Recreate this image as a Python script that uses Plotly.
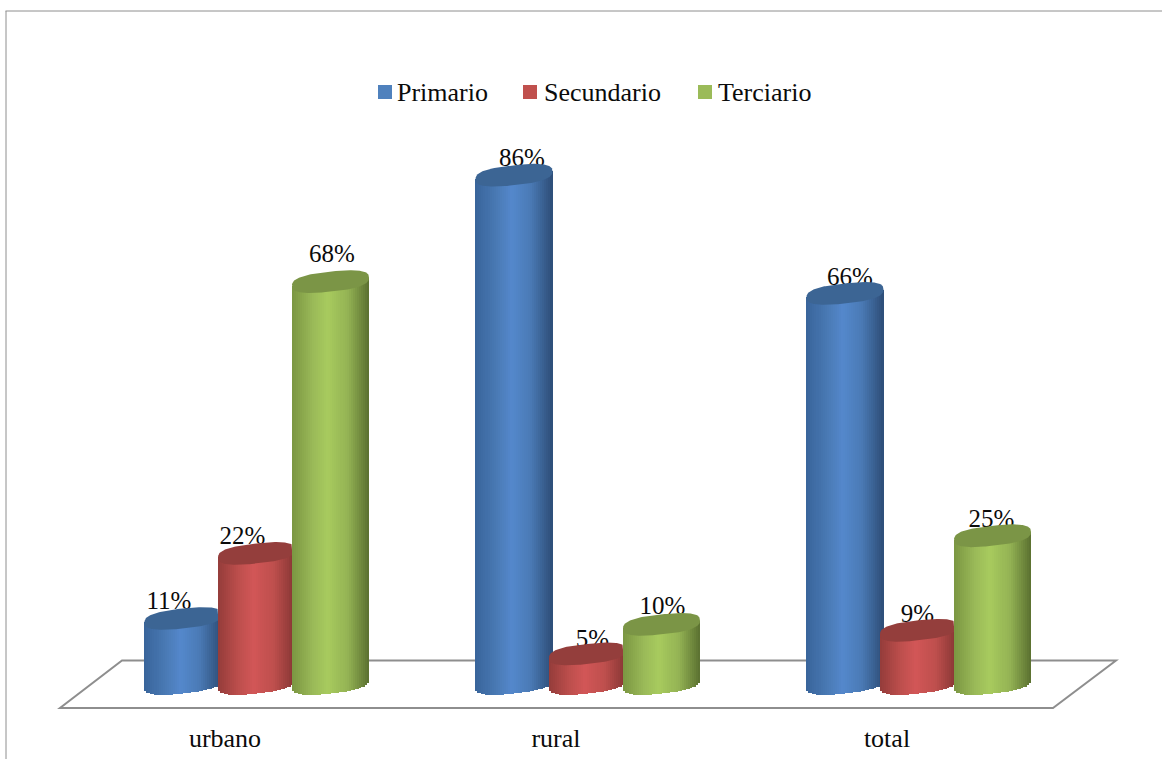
import numpy as np
import plotly.graph_objects as go

categories = ["urbano", "rural", "total"]
series_names = ["Primario", "Secundario", "Terciario"]
primario = [11, 86, 66]
secundario = [22, 5, 9]
terciario = [68, 10, 25]
series_values = [primario, secundario, terciario]
legend_colors = ["#4F81BD", "#C0504D", "#9BBB59"]
cap_colors = ["#3C6594", "#943E3C", "#7B9546"]
side_stops = [
    ["#38649A", "#4A7AB5", "#5488CC", "#4A7AB5", "#2E4E78"],
    ["#943C3A", "#BE4F4D", "#D25657", "#BE4F4D", "#853533"],
    ["#7A9642", "#9ABA58", "#A8CB5E", "#94B354", "#5A7030"],
]
stop_pos = [0.0, 0.28, 0.47, 0.72, 1.0]

W, H, AXIS_PX = 1162, 759, 720
PX_PER_UNIT_X = 331.0
PX_PER_PCT = 5.91
X0_PX = 225.0
ZERO_PX = 683.5
BAR_HALF = 38.5 / PX_PER_UNIT_X
SERIES_OFFSET = [-42 / PX_PER_UNIT_X, 31.5 / PX_PER_UNIT_X, 105.5 / PX_PER_UNIT_X]
ELL_B = 10 / PX_PER_PCT
ELL_S = 4 / PX_PER_PCT
ROUND = 0.75
N_STRIPS = 38
FONT = "Liberation Serif"
TEXT = "#0b0b0b"
GRAY = "#8E8E8E"

label_dx = [[-14, 8, 5], [-14, 5, -1], [1.5, 1, -1]]
label_dy = [[15.5, 15, 15], [15.5, 13.5, 15], [26, 17, 15.5]]

legend_icon_px = [378, 523, 698]
legend_text_px = [396, 543, 717]
LEGEND_Y_PX = 92
LEGEND_ICON = 14


def hex2rgb(h):
    return np.array([int(h[i:i + 2], 16) for i in (1, 3, 5)], float)


def ramp(stops, f):
    arr = np.array([hex2rgb(c) for c in stops])
    c = [np.interp(f, stop_pos, arr[:, j]) for j in range(3)]
    return "rgb(%d,%d,%d)" % tuple(round(v) for v in c)


def lower_edge(u):
    e = 2 / ROUND
    return (1 - abs(u) ** e) ** (1 / e)


fig = go.Figure()

# cylinder sides
edges = np.linspace(-1, 1, N_STRIPS + 1)
mids = (edges[:-1] + edges[1:]) / 2
step = 2 * BAR_HALF / N_STRIPS
for s, vals in enumerate(series_values):
    for u in mids:
        xs = [i + SERIES_OFFSET[s] + u * BAR_HALF for i in range(len(categories))]
        base = [-ELL_B * lower_edge(u) + ELL_S * u for _ in vals]
        top = [v + ELL_S * u for v in vals]
        fig.add_trace(go.Bar(x=xs, y=[a - b for a, b in zip(top, base)], base=base,
                             width=step * 1.15, showlegend=False, hoverinfo="skip",
                             name=series_names[s],
                             marker=dict(color=ramp(side_stops[s], (u + 1) / 2), line_width=0)))

# data labels (behind the caps)
for s, vals in enumerate(series_values):
    fig.add_trace(go.Scatter(
        x=[i + SERIES_OFFSET[s] + label_dx[s][i] / PX_PER_UNIT_X for i in range(len(vals))],
        y=[v + label_dy[s][i] / PX_PER_PCT for i, v in enumerate(vals)],
        mode="text", text=[f"{v}%" for v in vals], showlegend=False, hoverinfo="skip",
        textposition="middle center", textfont=dict(family=FONT, size=25, color=TEXT)))

# cylinder caps; a cap is hidden by the next cylinder when that one is taller
t = np.linspace(0, 2 * np.pi, 181)
ct, st = np.cos(t), np.sin(t)
cx = np.sign(ct) * np.abs(ct) ** ROUND
sy = np.sign(st) * np.abs(st) ** ROUND
for s, vals in enumerate(series_values):
    for i, v in enumerate(vals):
        ux = cx.copy()
        if s < 2 and series_values[s + 1][i] >= v:
            limit = (SERIES_OFFSET[s + 1] - SERIES_OFFSET[s] - BAR_HALF) / BAR_HALF
            ux = np.minimum(ux, limit)
        fig.add_trace(go.Scatter(
            x=i + SERIES_OFFSET[s] + BAR_HALF * ux,
            y=v + ELL_B * sy + ELL_S * cx,
            mode="lines", fill="toself", fillcolor=cap_colors[s],
            line=dict(width=0, color=cap_colors[s]),
            showlegend=False, hoverinfo="skip"))


def py(px):
    return 1 - px / AXIS_PX


def path(points):
    return "M " + " L ".join(f"{x / W:.5f},{py(y):.5f}" for x, y in points) + " Z"


shapes = [
    dict(type="path", xref="paper", yref="paper", layer="below",
         path=path([(122, 660.5), (1116, 660.5), (1053, 708), (60, 708)]),
         line=dict(color=GRAY, width=2)),
    dict(type="line", xref="paper", yref="paper", x0=5.5 / W, x1=1, y0=py(11), y1=py(11),
         line=dict(color=GRAY, width=1), layer="below"),
    dict(type="line", xref="paper", yref="paper", x0=6 / W, x1=6 / W, y0=py(11), y1=py(759),
         line=dict(color=GRAY, width=1), layer="below"),
]
annotations = []
for name, col, ix, tx in zip(series_names, legend_colors, legend_icon_px, legend_text_px):
    shapes.append(dict(type="rect", xref="paper", yref="paper", x0=ix / W, x1=(ix + LEGEND_ICON) / W,
                       y0=py(LEGEND_Y_PX + LEGEND_ICON / 2), y1=py(LEGEND_Y_PX - LEGEND_ICON / 2),
                       fillcolor=col, line_width=0))
    annotations.append(dict(xref="paper", yref="paper", x=tx / W, y=py(LEGEND_Y_PX), text=name,
                            showarrow=False, xanchor="left", yanchor="middle", borderpad=0,
                            font=dict(family=FONT, size=26, color=TEXT)))

fig.update_layout(
    width=W, height=H, autosize=False, showlegend=False,
    margin=dict(l=0, r=0, t=0, b=H - AXIS_PX, pad=0),
    paper_bgcolor="white", plot_bgcolor="rgba(0,0,0,0)",
    barmode="overlay", bargap=0, shapes=shapes, annotations=annotations, hovermode=False,
    xaxis=dict(range=[-X0_PX / PX_PER_UNIT_X, (W - X0_PX) / PX_PER_UNIT_X], tickmode="array",
               tickvals=list(range(len(categories))), ticktext=categories, showgrid=False,
               zeroline=False, showline=False, ticks="", ticklen=0,
               tickfont=dict(family=FONT, size=26, color=TEXT)),
    yaxis=dict(range=[(ZERO_PX - AXIS_PX) / PX_PER_PCT, ZERO_PX / PX_PER_PCT], visible=False),
)

fig.write_html("out.html", config=dict(displayModeBar=False),
               post_script="document.body.style.margin='0';document.body.style.overflow='hidden';")
